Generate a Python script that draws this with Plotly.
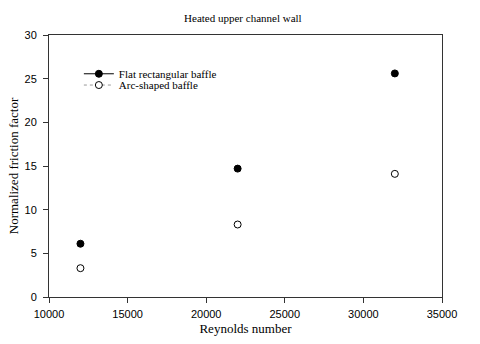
import plotly.graph_objects as go

reynolds = [12000, 22000, 32000]
flat_baffle = [6.1, 14.7, 25.6]
arc_baffle = [3.3, 8.3, 14.1]
x_ticks = [10000, 15000, 20000, 25000, 30000, 35000]
y_ticks = [0, 5, 10, 15, 20, 25, 30]

serif = "Liberation Serif"
sans = "Liberation Sans"

fig = go.Figure()
fig.add_trace(go.Scatter(x=reynolds, y=flat_baffle, mode="markers", showlegend=False,
                         marker=dict(symbol="circle", size=7, color="black",
                                     line=dict(color="black", width=1))))
fig.add_trace(go.Scatter(x=reynolds, y=arc_baffle, mode="markers", showlegend=False,
                         marker=dict(symbol="circle", size=7, color="white",
                                     line=dict(color="black", width=1))))
# legend entries
fig.add_trace(go.Scatter(x=[None], y=[None], mode="lines+markers", name="Flat rectangular baffle",
                         legend="legend",
                         line=dict(color="black", width=1),
                         marker=dict(symbol="circle", size=7, color="black",
                                     line=dict(color="black", width=1))))
fig.add_trace(go.Scatter(x=[None], y=[None], mode="lines+markers", name="Arc-shaped baffle",
                         legend="legend2",
                         line=dict(color="#999999", width=1, dash="dot"),
                         marker=dict(symbol="circle", size=7, color="white",
                                     line=dict(color="black", width=1))))

axis_common = dict(showgrid=False, zeroline=False, showline=True, linecolor="#333333",
                   linewidth=1, mirror=True, ticks="outside", ticklen=5, automargin=False,
                   tickcolor="#333333", tickfont=dict(family=sans, size=11, color="black"))

legend_common = dict(x=0.076, xanchor="left", yanchor="middle", bgcolor="rgba(0,0,0,0)",
                     font=dict(family=serif, size=11, color="black"), itemwidth=30)

fig.update_layout(
    width=480, height=344,
    margin=dict(l=49, r=38, t=35, b=47),
    paper_bgcolor="white", plot_bgcolor="white",
    title=dict(text="Heated upper channel wall", x=0.506, xanchor="center", y=0.947, yanchor="middle",
               font=dict(family=serif, size=11, color="black")),
    xaxis=dict(range=[10000, 35000], tickvals=x_ticks, ticktext=[str(v) for v in x_ticks],
               ticklabelstandoff=2,
               title=dict(text="Reynolds number", font=dict(family=serif, size=13, color="black"), standoff=4),
               **axis_common),
    yaxis=dict(range=[0, 30], tickvals=y_ticks, ticktext=[str(v) for v in y_ticks],
               ticklabelstandoff=4,
               title=dict(text="Normalized friction factor", font=dict(family=serif, size=13, color="black"), standoff=2),
               **axis_common),
    legend=dict(y=0.852, **legend_common),
    legend2=dict(y=0.809, **legend_common),
)

fig.write_html("out.html", config={"displayModeBar": False},
               post_script="document.body.style.margin='0px';")
